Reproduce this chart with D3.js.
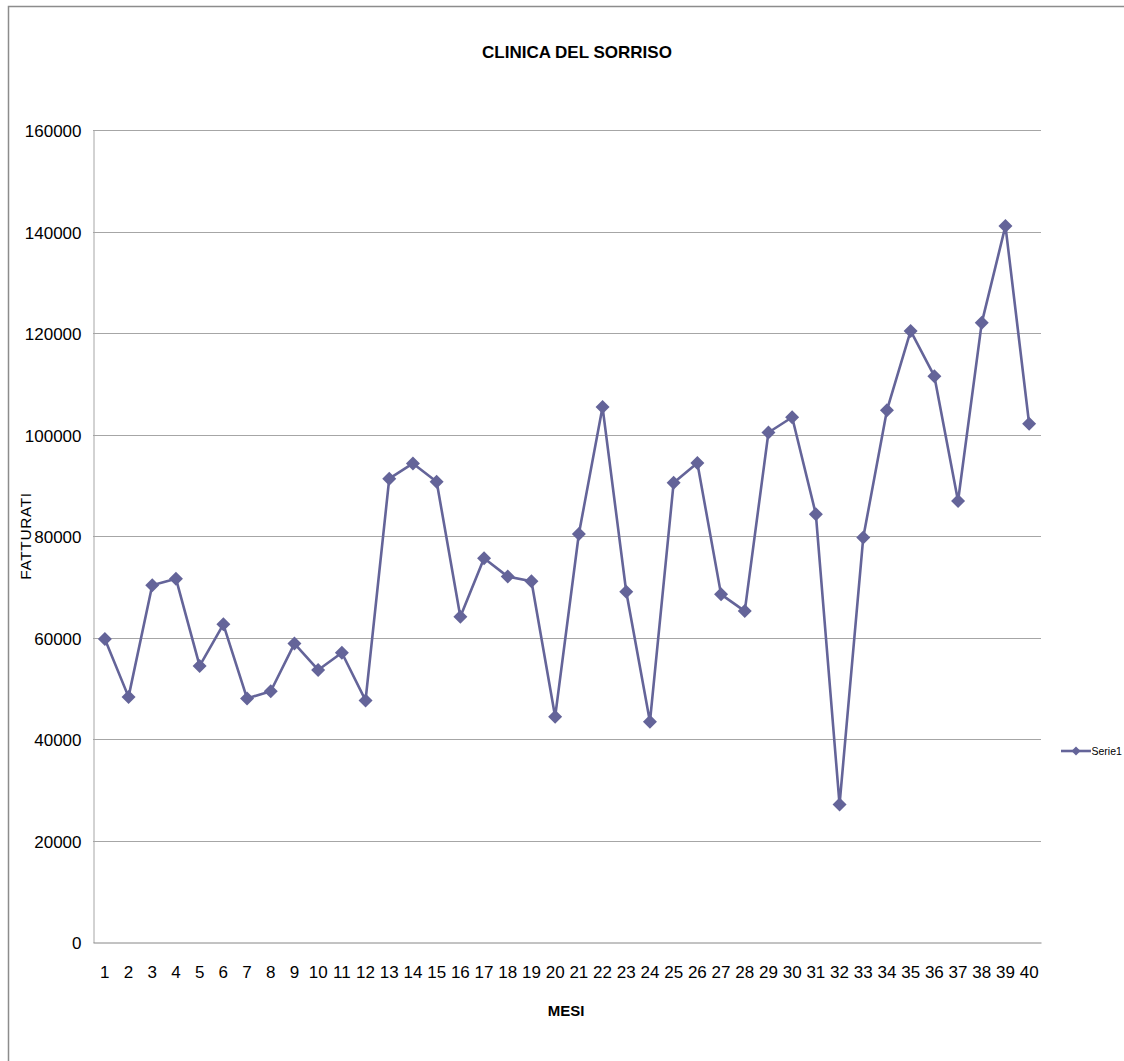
<!DOCTYPE html>
<html>
<head>
<meta charset="utf-8">
<script src="https://cdn.jsdelivr.net/npm/d3@7/dist/d3.min.js"></script>
<style>
  html, body { margin: 0; padding: 0; background: #fff; }
  svg { display: block; }
  text { font-family: "Liberation Sans", Arial, sans-serif; fill: #000; }
</style>
</head>
<body>
<svg id="chart" width="1124" height="1061"></svg>
<script>
// Monthly revenue (fatturati) for 40 months
const months = d3.range(1, 41).map(String);
const revenue = [
  59700, 48300, 70300, 71600, 54400, 62600, 48000, 49400, 58800, 53600,
  57000, 47600, 91300, 94300, 90700, 64100, 75600, 72000, 71100, 44400,
  80400, 105400, 69000, 43400, 90500, 94400, 68500, 65200, 100400, 103400,
  84300, 27100, 79700, 104800, 120400, 111500, 86900, 122000, 141100, 102100
];
const yTicks = [0, 20000, 40000, 60000, 80000, 100000, 120000, 140000, 160000];
const seriesName = "Serie1";
const chartTitle = "CLINICA DEL SORRISO";
const xTitle = "MESI";
const yTitle = "FATTURATI";

const svg = d3.select("#chart");
const plot = { left: 93, right: 1041, top: 130, bottom: 942 };
const lineColor = "#646499";

// Outer chart frame
svg.append("rect")
  .attr("x", 8.5).attr("y", 6.5)
  .attr("width", 1130).attr("height", 1070)
  .attr("fill", "none").attr("stroke", "#8c8c8c").attr("stroke-width", 1.5);

const x = d3.scaleBand().domain(months).range([plot.left, plot.right]).padding(0);
const y = d3.scaleLinear().domain([0, 160000]).range([plot.bottom, plot.top]);

// Horizontal gridlines
svg.append("g")
  .selectAll("line")
  .data(yTicks.filter(d => d > 0))
  .join("line")
  .attr("x1", plot.left).attr("x2", plot.right)
  .attr("y1", d => Math.round(y(d)) + 0.5).attr("y2", d => Math.round(y(d)) + 0.5)
  .attr("stroke", "#a6a6a6").attr("stroke-width", 1);

// Y axis
const yAxis = d3.axisLeft(y).tickValues(yTicks).tickSize(0).tickPadding(12).tickFormat(d3.format("d"));
const gy = svg.append("g").attr("transform", `translate(${plot.left + 0.5},0.5)`).call(yAxis);
gy.select(".domain").attr("stroke", "#a6a6a6");
gy.selectAll("text").style("font-size", "17px").attr("dy", "0.36em");

// X axis
const xAxis = d3.axisBottom(x).tickSize(0).tickPadding(23);
const gx = svg.append("g").attr("transform", `translate(0,${Math.round(plot.bottom) + 0.5})`).call(xAxis);
gx.select(".domain").attr("stroke", "#868686");
gx.selectAll("text").style("font-size", "17px");

// Series line
const cx = d => x(d) + x.bandwidth() / 2;
svg.append("path")
  .datum(months.map((m, i) => [m, revenue[i]]))
  .attr("fill", "none")
  .attr("stroke", lineColor)
  .attr("stroke-width", 2.6)
  .attr("stroke-linejoin", "round")
  .attr("d", d3.line().x(d => cx(d[0])).y(d => y(d[1])));

// Diamond markers
const diamondPath = (r) => `M0,${-r}L${r},0L0,${r}L${-r},0Z`;
svg.append("g")
  .selectAll("path")
  .data(months.map((m, i) => [m, revenue[i]]))
  .join("path")
  .attr("transform", d => `translate(${cx(d[0])},${y(d[1])})`)
  .attr("d", diamondPath(7))
  .attr("fill", lineColor);

// Title
svg.append("text")
  .attr("x", 577).attr("y", 58)
  .attr("text-anchor", "middle")
  .style("font-size", "17px").style("font-weight", "bold")
  .text(chartTitle);

// Axis titles
svg.append("text")
  .attr("x", 566).attr("y", 1016)
  .attr("text-anchor", "middle")
  .style("font-size", "15px").style("font-weight", "bold")
  .text(xTitle);

svg.append("text")
  .attr("transform", "translate(31,536) rotate(-90)")
  .attr("text-anchor", "middle")
  .style("font-size", "15.5px").style("letter-spacing", "0.6px")
  .text(yTitle);

// Legend
const lg = svg.append("g").attr("transform", "translate(1061,751)");
lg.append("line").attr("x1", 0).attr("x2", 30).attr("y1", 0).attr("y2", 0)
  .attr("stroke", lineColor).attr("stroke-width", 2.6);
lg.append("path").attr("transform", "translate(15,0)").attr("d", diamondPath(4.5)).attr("fill", lineColor);
lg.append("text").attr("x", 30.5).attr("y", 0).attr("dy", "0.36em")
  .style("font-size", "10.5px").text(seriesName);
</script>
</body>
</html>
